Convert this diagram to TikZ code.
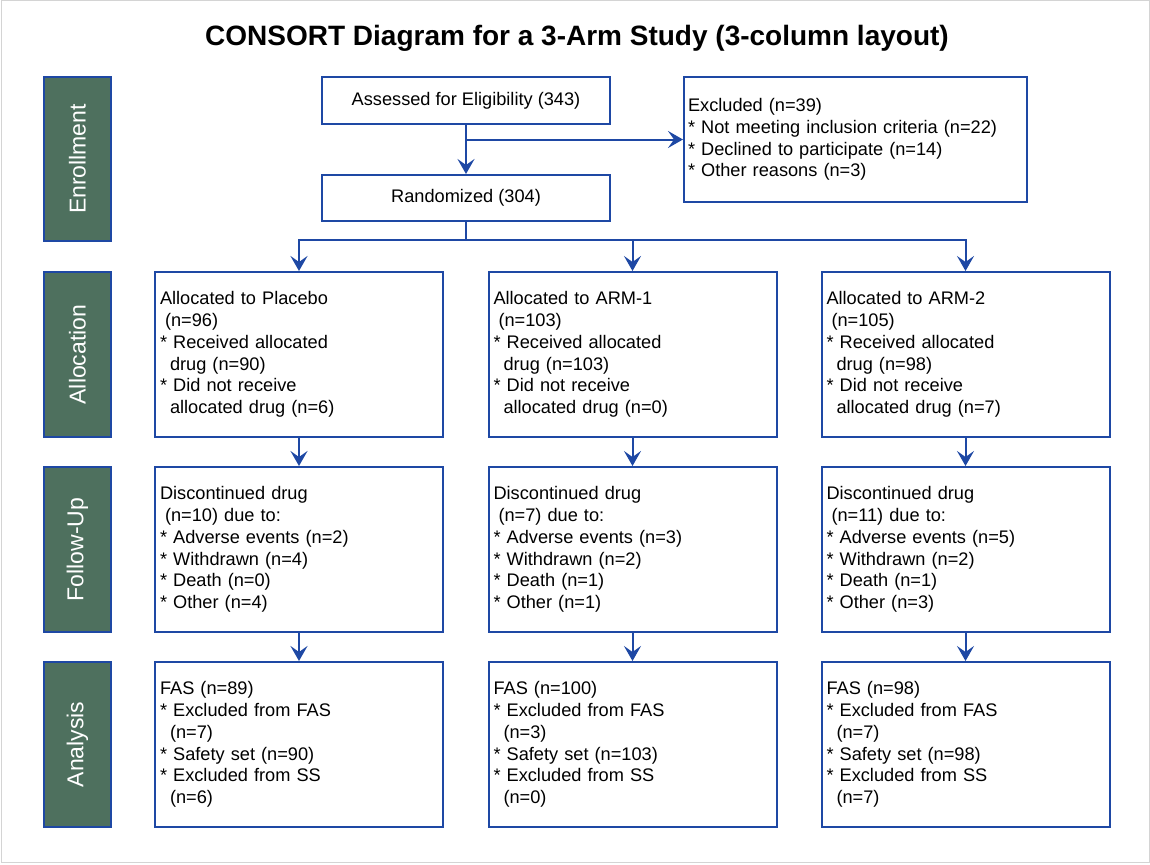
\documentclass[tikz,border=0pt]{standalone}
\usepackage{fontspec}
\setmainfont{Liberation Sans}
\usetikzlibrary{positioning, arrows.meta}
\definecolor{boxblue}{RGB}{30,72,164}
\definecolor{bargreen}{RGB}{78,112,94}
\definecolor{framegray}{RGB}{212,212,212}
\tikzset{>={Stealth[length=15pt, width=17pt, inset=6pt]},
link/.style={->, draw=boxblue, line width=2pt},
block/.style={draw=boxblue, line width=2pt, fill=white, inner sep=0pt, font=\fontsize{18.2}{21.7}\selectfont},
armbox/.style={block, minimum width=288pt, minimum height=165pt, text width=278pt, inner xsep=5pt, align=left},
stage/.style={draw=boxblue, fill=bargreen, line width=2pt, rotate=90, minimum width=165pt, minimum height=67pt, text=white, font=\fontsize{23}{27}\selectfont},
}
\newcommand{\gapone}{\hspace*{5pt}}
\newcommand{\gaptwo}{\hspace*{10pt}}

\begin{document}
\begin{tikzpicture}[x=1pt, y=-1pt]
    \useasboundingbox (0,0) rectangle (1150,864);
    \draw[framegray, line width=1pt] (1,1) rectangle (1149,862);
    \node (title) at (577,38) {\fontsize{28}{33}\selectfont\bfseries CONSORT Diagram for a 3-Arm Study (3-column layout)};

    % stages on the left
    \node[stage, minimum width=164pt] (enroll) at (77.5,159) {Enrollment};
    \node[stage] (alloc) at (77.5,354.5) {Allocation};
    \node[stage] (follow) at (77.5,549.5) {Follow-Up};
    \node[stage] (anal) at (77.5,744.5) {Analysis};

    % enrollment
    \node[block, minimum width=288pt, minimum height=47pt] (assess) at (466,100.5) {Assessed for Eligibility (343)};
    \node[block, minimum width=288pt, minimum height=46pt] (rand) at (466,198) {Randomized (304)};
    \node[block, minimum width=343pt, minimum height=125pt, text width=335pt, inner xsep=4pt, align=left] (excl) at (855.5,139.5)
        {Excluded (n=39)\\{*} Not meeting inclusion criteria (n=22)\\{*} Declined to participate (n=14)\\{*} Other reasons (n=3)};

    % allocation
    \node[armbox] (alloc_1) at (299,354.5)
        {Allocated to Placebo\\\gapone(n=96)\\{*} Received allocated\\\gaptwo drug (n=90)\\{*} Did not receive\\\gaptwo allocated drug (n=6)};
    \node[armbox] (alloc_2) at (632.5,354.5)
        {Allocated to ARM-1\\\gapone(n=103)\\{*} Received allocated\\\gaptwo drug (n=103)\\{*} Did not receive\\\gaptwo allocated drug (n=0)};
    \node[armbox] (alloc_3) at (965.5,354.5)
        {Allocated to ARM-2\\\gapone(n=105)\\{*} Received allocated\\\gaptwo drug (n=98)\\{*} Did not receive\\\gaptwo allocated drug (n=7)};

    % follow-up
    \node[armbox] (follow_1) at (299,549.5)
        {Discontinued drug\\\gapone(n=10) due to:\\{*} Adverse events (n=2)\\{*} Withdrawn (n=4)\\{*} Death (n=0)\\{*} Other (n=4)};
    \node[armbox] (follow_2) at (632.5,549.5)
        {Discontinued drug\\\gapone(n=7) due to:\\{*} Adverse events (n=3)\\{*} Withdrawn (n=2)\\{*} Death (n=1)\\{*} Other (n=1)};
    \node[armbox] (follow_3) at (965.5,549.5)
        {Discontinued drug\\\gapone(n=11) due to:\\{*} Adverse events (n=5)\\{*} Withdrawn (n=2)\\{*} Death (n=1)\\{*} Other (n=3)};

    % analysis
    \node[armbox] (anal_1) at (299,744.5)
        {FAS (n=89)\\{*} Excluded from FAS\\\gaptwo(n=7)\\{*} Safety set (n=90)\\{*} Excluded from SS\\\gaptwo(n=6)};
    \node[armbox] (anal_2) at (632.5,744.5)
        {FAS (n=100)\\{*} Excluded from FAS\\\gaptwo(n=3)\\{*} Safety set (n=103)\\{*} Excluded from SS\\\gaptwo(n=0)};
    \node[armbox] (anal_3) at (965.5,744.5)
        {FAS (n=98)\\{*} Excluded from FAS\\\gaptwo(n=7)\\{*} Safety set (n=98)\\{*} Excluded from SS\\\gaptwo(n=7)};

    \coordinate (split) at (466,139.5);
    \coordinate (fork) at (466,240);
    \draw[link] (assess) -- (rand);
    \draw[link] (split) -- (excl.west);
    \draw[link, -] (rand) -- (fork);
    \draw[link] (fork) -| (alloc_1.north);
    \draw[link] (fork) -| (alloc_2.north);
    \draw[link] (fork) -| (alloc_3.north);
    \draw[link] (alloc_1) -- (follow_1);
    \draw[link] (alloc_2) -- (follow_2);
    \draw[link] (alloc_3) -- (follow_3);
    \draw[link] (follow_1) -- (anal_1);
    \draw[link] (follow_2) -- (anal_2);
    \draw[link] (follow_3) -- (anal_3);
\end{tikzpicture}
\end{document}
